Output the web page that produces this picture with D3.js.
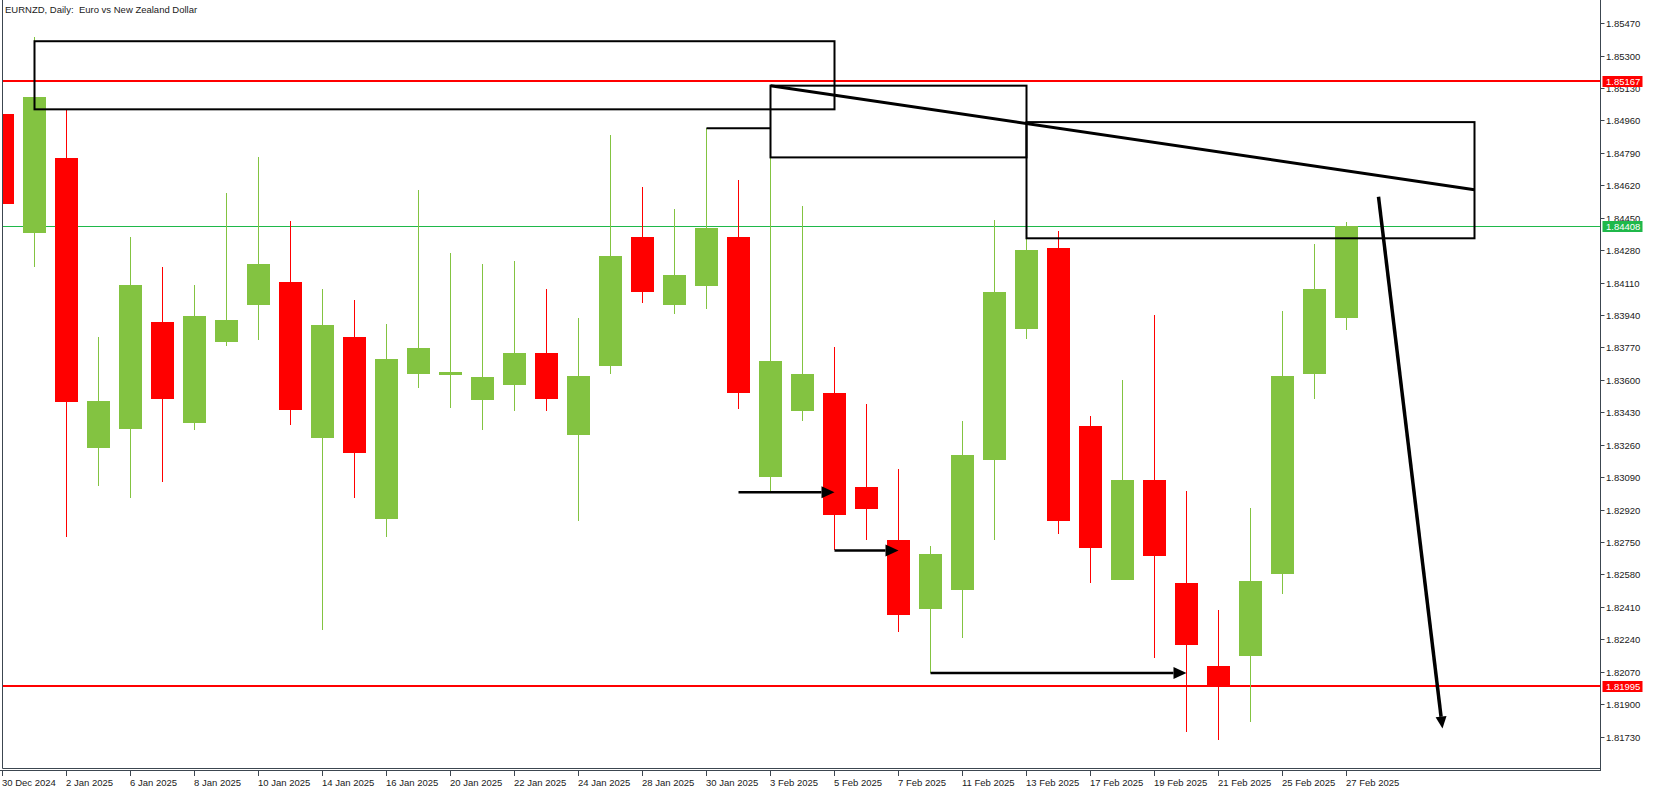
<!DOCTYPE html>
<html>
<head>
<meta charset="utf-8">
<script src="https://cdn.jsdelivr.net/npm/d3@7"></script>
<style>
  html, body { margin: 0; padding: 0; background: #ffffff; }
  svg { display: block; }
  text { font-family: "Liberation Sans", Arial, sans-serif; }
</style>
</head>
<body>
<svg id="chart" width="1653" height="791"></svg>
<script>
// ---------- data ----------
const title = "EURNZD, Daily:  Euro vs New Zealand Dollar";
const dates = ["30 Dec 2024","31 Dec 2024","2 Jan 2025","3 Jan 2025","6 Jan 2025","7 Jan 2025","8 Jan 2025","9 Jan 2025","10 Jan 2025","13 Jan 2025","14 Jan 2025","15 Jan 2025","16 Jan 2025","17 Jan 2025","20 Jan 2025","21 Jan 2025","22 Jan 2025","23 Jan 2025","24 Jan 2025","27 Jan 2025","28 Jan 2025","29 Jan 2025","30 Jan 2025","31 Jan 2025","3 Feb 2025","4 Feb 2025","5 Feb 2025","6 Feb 2025","7 Feb 2025","10 Feb 2025","11 Feb 2025","12 Feb 2025","13 Feb 2025","14 Feb 2025","17 Feb 2025","18 Feb 2025","19 Feb 2025","20 Feb 2025","21 Feb 2025","24 Feb 2025","25 Feb 2025","26 Feb 2025","27 Feb 2025"];
const openP  = [1.84991,1.84369,1.84761,1.83244,1.83343,1.83903,1.83375,1.83797,1.83990,1.84114,1.83296,1.83824,1.82872,1.83633,1.83623,1.83492,1.83571,1.83742,1.83313,1.83675,1.84349,1.83990,1.84094,1.84349,1.83093,1.83435,1.83531,1.83038,1.82763,1.82399,1.82498,1.83182,1.83868,1.84292,1.83358,1.82553,1.83073,1.82533,1.82102,1.82151,1.82582,1.83633,1.83923];
const highP  = [1.85050,1.85395,1.85016,1.83824,1.84349,1.84193,1.84099,1.84582,1.84766,1.84434,1.84077,1.84020,1.83893,1.84597,1.84265,1.84208,1.84223,1.84077,1.83925,1.84884,1.84612,1.84498,1.84919,1.84649,1.85142,1.84513,1.83772,1.83472,1.83132,1.82729,1.83383,1.84438,1.84342,1.84381,1.83410,1.83598,1.83940,1.83016,1.82396,1.82927,1.83963,1.84312,1.84429];
const lowP   = [1.84480,1.84191,1.82778,1.83041,1.82981,1.83066,1.83338,1.83779,1.83807,1.83365,1.82290,1.82981,1.82778,1.83559,1.83455,1.83338,1.83435,1.83435,1.82862,1.83633,1.84005,1.83943,1.83970,1.83445,1.83013,1.83385,1.82709,1.82761,1.82277,1.82064,1.82248,1.82761,1.83816,1.82793,1.82535,1.82553,1.82141,1.81752,1.81710,1.81807,1.82478,1.83502,1.83859];
const closeP = [1.84520,1.85085,1.83482,1.83489,1.84099,1.83497,1.83935,1.83913,1.84208,1.83440,1.83888,1.83219,1.83710,1.83767,1.83640,1.83616,1.83742,1.83502,1.83621,1.84250,1.84059,1.84151,1.84396,1.83529,1.83700,1.83631,1.82892,1.82924,1.82367,1.82686,1.83204,1.84062,1.84282,1.82862,1.82719,1.83073,1.82676,1.82211,1.81995,1.82543,1.83621,1.84077,1.84408];
const priceTicks = [1.85470,1.85300,1.85130,1.84960,1.84790,1.84620,1.84450,1.84280,1.84110,1.83940,1.83770,1.83600,1.83430,1.83260,1.83090,1.82920,1.82750,1.82580,1.82410,1.82240,1.82070,1.81900,1.81730];
const dateTickIdx = [0,2,4,6,8,10,12,14,16,18,20,22,24,26,28,30,32,34,36,38,40,42];
const redLevels = [1.85167, 1.81995];
const bidLevel = 1.84408;
// drawn objects: [index, price] anchors
const rects = [
  {i0: 1,  p0: 1.85375, i1: 26, p1: 1.85018},
  {i0: 24, p0: 1.85142, i1: 32, p1: 1.84766},
  {i0: 32, p0: 1.84951, i1: 46, p1: 1.84342}
];
const trendLine = {i0: 24, p0: 1.85142, i1: 46, p1: 1.84597};
const hLine = {i0: 22, i1: 24, p: 1.84919};
const arrows = [
  {i0: 23, p0: 1.83011, i1: 26, p1: 1.83011},
  {i0: 26, p0: 1.82706, i1: 28, p1: 1.82706},
  {i0: 29, p0: 1.82064, i1: 37, p1: 1.82064}
];
const bigArrow = {i0: 43, p0: 1.84560, i1: 45, p1: 1.81772};

// ---------- layout ----------
const svg = d3.select("#chart");
const plotL = 2.5, plotR = 1600.5, plotT = 0, plotB = 768.5;
const x = d3.scaleLinear().domain([0, 50]).range([2.5, 1602.5]);
const y = d3.scaleLinear().domain([1.81730, 1.85470]).range([736.6, 23.1]);
const GREEN = "#83c341", RED = "#ff0000";

svg.append("defs").append("clipPath").attr("id", "plotclip")
  .append("rect").attr("x", plotL + 0.5).attr("y", 0).attr("width", plotR - plotL - 1).attr("height", plotB);

const plot = svg.append("g").attr("clip-path", "url(#plotclip)");

// horizontal levels
plot.selectAll(".red").data(redLevels).enter().append("line")
  .attr("x1", plotL).attr("x2", plotR)
  .attr("y1", d => Math.round(y(d))).attr("y2", d => Math.round(y(d)))
  .attr("stroke", RED).attr("stroke-width", 2);
plot.append("line").attr("x1", plotL).attr("x2", plotR)
  .attr("y1", Math.round(y(bidLevel)) + 0.5).attr("y2", Math.round(y(bidLevel)) + 0.5)
  .attr("stroke", "#1fb84a").attr("stroke-width", 1);

// candles
const data = dates.map((d, i) => ({i, o: openP[i], h: highP[i], l: lowP[i], c: closeP[i]}));
const cg = plot.append("g");
cg.selectAll(".wick").data(data).enter().append("line")
  .attr("x1", d => x(d.i)).attr("x2", d => x(d.i))
  .attr("y1", d => Math.round(y(d.h))).attr("y2", d => Math.round(y(d.l)))
  .attr("stroke", d => d.c >= d.o ? GREEN : RED).attr("stroke-width", 1);
cg.selectAll(".body").data(data).enter().append("rect")
  .attr("x", d => x(d.i) - 11.5).attr("width", 23)
  .attr("y", d => Math.round(y(Math.max(d.o, d.c))))
  .attr("height", d => Math.max(2, Math.round(y(Math.min(d.o, d.c))) - Math.round(y(Math.max(d.o, d.c)))))
  .attr("fill", d => d.c >= d.o ? GREEN : RED);

// drawings
const dg = plot.append("g").attr("fill", "none").attr("stroke", "#000");
dg.selectAll(".rc").data(rects).enter().append("rect")
  .attr("x", d => x(d.i0)).attr("y", d => y(d.p0))
  .attr("width", d => x(d.i1) - x(d.i0)).attr("height", d => y(d.p1) - y(d.p0))
  .attr("stroke-width", 2);
dg.append("line")
  .attr("x1", x(trendLine.i0)).attr("y1", y(trendLine.p0))
  .attr("x2", x(trendLine.i1)).attr("y2", y(trendLine.p1))
  .attr("stroke-width", 3);
dg.append("line")
  .attr("x1", x(hLine.i0)).attr("x2", x(hLine.i1))
  .attr("y1", y(hLine.p)).attr("y2", y(hLine.p))
  .attr("stroke-width", 2);

function arrow(a, width, headLen, headW) {
  const x0 = x(a.i0), y0 = y(a.p0), x1 = x(a.i1), y1 = y(a.p1);
  const ang = Math.atan2(y1 - y0, x1 - x0);
  const bx = x1 - headLen * Math.cos(ang), by = y1 - headLen * Math.sin(ang);
  dg.append("line").attr("x1", x0).attr("y1", y0).attr("x2", bx).attr("y2", by)
    .attr("stroke-width", width);
  const px = -Math.sin(ang) * headW / 2, py = Math.cos(ang) * headW / 2;
  dg.append("path")
    .attr("d", `M${x1},${y1}L${bx + px},${by + py}L${bx - px},${by - py}Z`)
    .attr("fill", "#000").attr("stroke", "none");
}
arrows.forEach(a => arrow(a, 2.5, 13, 12));
arrow(bigArrow, 3.5, 12, 11);

// frame
svg.append("line").attr("x1", plotL).attr("x2", plotL).attr("y1", 0).attr("y2", plotB).attr("stroke", "#3c4650");
svg.append("line").attr("x1", plotR).attr("x2", plotR).attr("y1", 0).attr("y2", 771).attr("stroke", "#3c4650");
svg.append("line").attr("x1", plotL).attr("x2", plotR).attr("y1", plotB).attr("y2", plotB).attr("stroke", "#3c4650");
svg.append("line").attr("x1", 0).attr("x2", plotR).attr("y1", 770.5).attr("y2", 770.5).attr("stroke", "#3c4650");

// price axis
const pa = svg.append("g");
pa.selectAll(".pt").data(priceTicks).enter().append("line")
  .attr("x1", plotR).attr("x2", plotR + 4)
  .attr("y1", d => Math.round(y(d)) + 0.5).attr("y2", d => Math.round(y(d)) + 0.5)
  .attr("stroke", "#3c4650");
pa.selectAll(".pl").data(priceTicks).enter().append("text")
  .attr("x", 1606).attr("y", d => Math.round(y(d)) + 4)
  .attr("font-size", "9.5px").attr("fill", "#1a1a1a")
  .text(d => d.toFixed(5));

// level labels
const lv = [{p: redLevels[0], c: RED}, {p: bidLevel, c: "#1fb84a"}, {p: redLevels[1], c: RED}];
const lg = svg.selectAll(".lv").data(lv).enter().append("g");
lg.append("rect").attr("x", plotR + 2).attr("y", d => Math.round(y(d.p)) - 5).attr("width", 40).attr("height", 11)
  .attr("fill", d => d.c);
lg.append("text").attr("x", 1606).attr("y", d => Math.round(y(d.p)) + 4)
  .attr("font-size", "9.5px").attr("fill", "#fff").text(d => d.p.toFixed(5));

// date axis
const da = svg.append("g");
da.selectAll(".dt").data(dateTickIdx).enter().append("line")
  .attr("x1", d => x(d)).attr("x2", d => x(d)).attr("y1", 771).attr("y2", 776)
  .attr("stroke", "#3c4650");
da.selectAll(".dl").data(dateTickIdx).enter().append("text")
  .attr("x", d => x(d) - 0.5).attr("y", 786)
  .attr("font-size", "9.5px").attr("fill", "#1a1a1a")
  .text(d => dates[d]);

// title
svg.append("text").attr("x", 5).attr("y", 13).attr("font-size", "9.5px").attr("fill", "#1a1a1a")
  .style("white-space", "pre").text(title);
</script>
</body>
</html>
